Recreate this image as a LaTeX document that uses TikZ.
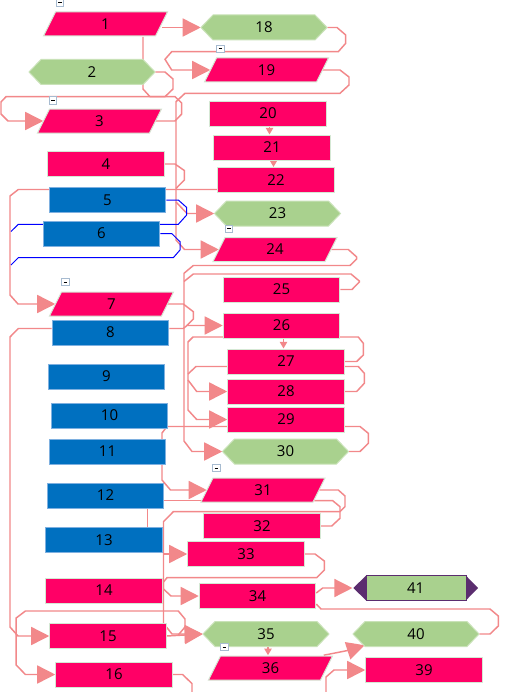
\documentclass[tikz,border=0pt]{standalone}
\usepackage{fontspec}
\setmainfont{Open Sans}
\usetikzlibrary{arrows.meta,calc}
\definecolor{pk}{HTML}{FF0066}
\definecolor{pkb}{HTML}{D5E8D4}
\definecolor{bl}{HTML}{0070C0}
\definecolor{blb}{HTML}{7EB0E0}
\definecolor{gr}{HTML}{A9D18E}
\definecolor{grb}{HTML}{C9E2B8}
\definecolor{pu}{HTML}{5B2D6F}
\definecolor{ln}{HTML}{F2888A}
\definecolor{mk}{HTML}{A7BBD0}
\tikzset{
  lbl/.style={inner sep=0pt, minimum height=18.75pt, font=\fontsize{11.25}{13}\selectfont},
  pinkbox/.style={lbl, rectangle, fill=pk, draw=pkb, line width=0.75pt, minimum width=87.4pt},
  bluebox/.style={lbl, rectangle, fill=bl, draw=blb, line width=0.75pt, minimum width=87.4pt},
  conn/.style={draw=ln, line width=1.1pt},
  arr/.style={conn, -{Triangle[length=13.5pt,width=13.5pt]}},
  sarr/.style={conn, -{Triangle[length=5pt,width=5.5pt]}},
  bconn/.style={draw=blue, line width=0.75pt},
}
\newcommand\mypgram[4]{%
  \filldraw[fill=pk, draw=pkb, line width=0.75pt] (#2-50,#3-12) -- (#2+62,#3-12) -- (#2+50,#3+12) -- (#2-62,#3+12) -- cycle;
  \node[lbl, minimum width=84pt] (#1) at (#2,#3) {#4};}
\newcommand\myhex[4]{%
  \filldraw[fill=gr, draw=grb, line width=0.75pt] (#2-63,#3) -- (#2-51,#3-12.5) -- (#2+51,#3-12.5) -- (#2+63,#3) -- (#2+51,#3+12.5) -- (#2-51,#3+12.5) -- cycle;
  \node[lbl, minimum width=94.5pt] (#1) at (#2,#3) {#4};}
\newcommand\mymark[2]{%
  \draw[mk, fill=white, line width=0.6pt] (#1,#2) rectangle (#1+7.5,#2+7.5);
  \draw[black, line width=0.8pt] (#1+2,#2+3.75) -- (#1+5.5,#2+3.75);}
\begin{document}
\begin{tikzpicture}[x=0.75pt, y=-0.75pt]
\fill[white] (0,0) rectangle (530,692);
\useasboundingbox (0,0) rectangle (530,692);

% ---------- node positions (named first; shapes drawn on top later) ----------
\begin{scope}[opacity=0]
\node[lbl, minimum width=84pt] (1) at (105.5,24) {};
\node[lbl, minimum width=94.5pt] (18) at (264,27.5) {};
\node[lbl, minimum width=94.5pt] (2) at (92,72) {};
\node[lbl, minimum width=84pt] (19) at (266.5,70) {};
\node[lbl, minimum width=84pt] (3) at (99.5,121) {};
\node[pinkbox] (20) at (268,113.5) {};
\node[pinkbox] (21) at (272,147.5) {};
\node[pinkbox] (22) at (276,180) {};
\node[pinkbox] (4) at (106,164) {};
\node[bluebox] (5) at (107.5,200) {};
\node[bluebox] (6) at (101.5,233.5) {};
\node[lbl, minimum width=94.5pt] (23) at (277.5,213.5) {};
\node[lbl, minimum width=84pt] (24) at (275,249.5) {};
\node[pinkbox] (25) at (281.5,289.5) {};
\node[lbl, minimum width=84pt] (7) at (111.5,304) {};
\node[pinkbox] (26) at (281.5,325.5) {};
\node[bluebox] (8) at (110.5,332.5) {};
\node[pinkbox] (27) at (286,361.5) {};
\node[bluebox] (9) at (106.5,376.5) {};
\node[pinkbox] (28) at (286,391.5) {};
\node[bluebox] (10) at (109.5,415.5) {};
\node[pinkbox] (29) at (286,419.5) {};
\node[bluebox] (11) at (107.5,451.5) {};
\node[lbl, minimum width=94.5pt] (30) at (285.5,451.5) {};
\node[lbl, minimum width=84pt] (31) at (263,490) {};
\node[bluebox] (12) at (105.5,495.5) {};
\node[pinkbox] (32) at (262,526) {};
\node[bluebox] (13) at (104,540) {};
\node[pinkbox] (33) at (246,554) {};
\node[pinkbox] (14) at (104,590.5) {};
\node[pinkbox] (34) at (257.5,596) {};
\node[lbl, minimum width=94.5pt] (41) at (415.7,588) {};
\node[pinkbox] (15) at (108,636) {};
\node[lbl, minimum width=94.5pt] (35) at (266,634) {};
\node[lbl, minimum width=94.5pt] (40) at (416,634) {};
\node[pinkbox] (16) at (114,674.5) {};
\node[lbl, minimum width=84pt] (36) at (270.5,668) {};
\node[pinkbox] (39) at (424,670) {};
\end{scope}

% ---------- connectors ----------
\draw[arr] (18.west -| 1.east) -- (18.west);
\draw[conn] (2.east) -- (165,72) -- (173,79) -- (173,89) -- (165,96.7) -- (150,96.7) -- (143,89) -- ($(1.south)+(37.5,0)$);
\draw[arr] (18.east) -- (337,27.5) -- (345.7,35) -- (345.7,43.3) -- (338.3,51.7) -- (171.7,51.7) -- (165,59.3) -- (171.7,70) -- (19.west);
\draw[arr] (19.east) -- (340,70) -- (349,77) -- (349,85) -- (340,93.3) -- (185,93.3) -- (176,101.7) -- (176,240) -- (184.5,249.5) -- (24.west);
\draw[arr] (176,202) -- (187,213.5) -- (23.west);
\draw[arr] (3.east) -- (175,121) -- (181.7,114) -- (181.7,103) -- (175,96.7) -- (6,96.7) -- (1,102) -- (1,114) -- (8,121) -- (3.west);
\draw[conn] (4.east) -- (175,164) -- (184.3,170.5) -- (184.3,180) -- (176,188.5);
\draw[arr] ($(22.west)+(0,9.5)$) -- (18.3,189.5) -- (10,196) -- (10,295) -- (18,304) -- (7.west);
\draw[bconn] (5.east) -- (178.3,200) -- (186.7,207.5) -- (186.7,215) -- (178.3,224.3) -- (18.3,224.3) -- (11,231.5);
\draw[bconn] (6.east) -- (171.7,233.5) -- (180,241.7) -- (180,250) -- (173.3,257.7) -- (18.3,257.7) -- (11,265);
\draw[arr] (24.east) -- (348.3,249.5) -- (356.7,257) -- (356.7,259) -- (350,265.5) -- (193.3,265.5) -- (184,273.3) -- (184,441) -- (192,451.5) -- (30.west);
\draw[conn] (25.east) -- (352,289.5) -- (359.3,282) -- (359.3,281) -- (351,274) -- (193.3,274) -- (184,281.5);
\draw[conn] (7.east) -- (183.3,304) -- (193.3,311.7) -- (193.3,319) -- (187,325.5);
\draw[arr] ($(8.east)+(0,-4)$) -- (183.3,328.5) -- (187,325.5) -- (26.west);
\draw[sarr] ($(26.south)+(2,0)$) -- ($(27.north)+(-2.5,0)$);
\draw[arr] (27.east) -- (356.7,361.5) -- (363.3,355) -- (363.3,343.3) -- (358.3,337) -- (193,337) -- (188,342) -- (188,410) -- (196.7,419.5) -- (29.west);
\draw[arr] (188,380) -- (196.7,391.5) -- (28.west);
\draw[conn] ($(27.west)+(0,5)$) -- (196,366.5) -- (188,374);
\draw[conn] ($(27.east)+(0,5)$) -- (358.3,366.5) -- (364.3,373.3) -- (364.3,383.3) -- (356.7,391.5) -- (28.east);
\draw[conn] ($(29.east)+(0,7)$) -- (360,426.5) -- (368.3,433.3) -- (368.3,443.3) -- (360,451.5) -- (30.east);
\draw[arr] ($(29.west)+(0,7)$) -- (167,426.5) -- (162,433) -- (162,480) -- (170.5,490) -- (31.west);
\draw[conn] ($(12.east)+(0,5)$) -- ($(31.west)+(-5,10.5)$);
\draw[conn] ($(12.south)+(42,0)$) -- ($(13.north)+(43.5,0)$);
\draw[arr] (31.east) -- (338.3,490) -- (345,496) -- (345,506.7) -- (340,511.7) -- (173.3,511.7) -- (163.5,521.7) -- (163.5,623.3) -- (172,634) -- (35.west);
\draw[conn] ($(31.east)+(-5,10.7)$) -- (332.7,500.7) -- (340,506.7) -- (340,518.3) -- (331.7,526) -- (32.east);
\draw[arr] ($(13.south east)+(0,1)$) -- (33.west);
\draw[arr] (33.east) -- (315,554) -- (324.3,561) -- (324.3,570) -- (316.7,577.7) -- (167,577.7) -- (163.5,582) -- (163.5,589) -- (171,596) -- (34.west);
\draw[arr] (15.east) -- (35.west);
\draw[arr] (178.3,635) -- (185,627) -- (185,619) -- (178.3,611) -- (25.4,611) -- (16.2,618) -- (16.2,665) -- (25.4,674.5) -- (16.west);
\draw[arr] ($(8.west)+(0,-4)$) -- (18.3,328.5) -- (10,337) -- (10,627) -- (18,636) -- (15.west);
\draw[conn] (16.east) -- (182.6,674.5) -- (192,683.6) -- (192,693);
\draw[arr] ($(34.east)+(0,-3)$) -- (322.7,588) -- (41.west);
\draw[conn] ($(34.east)+(0,8)$) -- (321,609) -- (490,609) -- (498.3,616) -- (498.3,626) -- (490,634) -- (40.east);
\draw[arr] ($(36.north east)+(-3,0)$) -- (350,650) -- ($(40.south west)+(12,-1.5)$);
\draw[sarr] ($(35.south)+(2,0)$) -- ($(36.north)+(-2.5,0)$);
\draw[arr] (326,693) -- (326,677) -- (334,670) -- (39.west);
\draw[sarr] ($(20.south)+(1.5,0)$) -- ($(21.north)+(-2.5,0)$);
\draw[sarr] ($(21.south)+(1.5,0)$) -- ($(22.north)+(-2.5,0)$);

% ---------- shapes ----------
\mypgram{1}{105.5}{24}{1}
\myhex{18}{264}{27.5}{18}
\myhex{2}{92}{72}{2}
\mypgram{19}{266.5}{70}{19}
\mypgram{3}{99.5}{121}{3}
\node[pinkbox] at (20) {20};
\node[pinkbox] at (21) {21};
\node[pinkbox] at (22) {22};
\node[pinkbox] at (4) {4};
\node[bluebox] at (5) {5};
\node[bluebox] at (6) {6};
\myhex{23}{277.5}{213.5}{23}
\mypgram{24}{275}{249.5}{24}
\node[pinkbox] at (25) {25};
\mypgram{7}{111.5}{304}{7}
\node[pinkbox] at (26) {26};
\node[bluebox] at (8) {8};
\node[pinkbox] at (27) {27};
\node[bluebox] at (9) {9};
\node[pinkbox] at (28) {28};
\node[bluebox] at (10) {10};
\node[pinkbox] at (29) {29};
\node[bluebox] at (11) {11};
\myhex{30}{285.5}{451.5}{30}
\mypgram{31}{263}{490}{31}
\node[bluebox] at (12) {12};
\node[pinkbox] at (32) {32};
\node[bluebox] at (13) {13};
\node[pinkbox] at (33) {33};
\node[pinkbox] at (14) {14};
\node[pinkbox] at (34) {34};
\fill[pu] (353.3,588) -- (366,575.7) -- (466,575.7) -- (478,588) -- (466,600.3) -- (366,600.3) -- cycle;
\filldraw[fill=gr, draw=pu, line width=0.75pt] (366,575.7) rectangle (466,600.3);
\node[lbl] at (41) {41};
\node[pinkbox] at (15) {15};
\myhex{35}{266}{634}{35}
\myhex{40}{416}{634}{40}
\node[pinkbox] at (16) {16};
\mypgram{36}{270.5}{668}{36}
\node[pinkbox] at (39) {39};

% ---------- collapse markers ----------
\mymark{56}{-1.5}
\mymark{216.7}{45}
\mymark{49.3}{96.7}
\mymark{225}{225}
\mymark{61.7}{278.3}
\mymark{212.7}{464.3}
\mymark{220.7}{643.3}
\end{tikzpicture}
\end{document}
